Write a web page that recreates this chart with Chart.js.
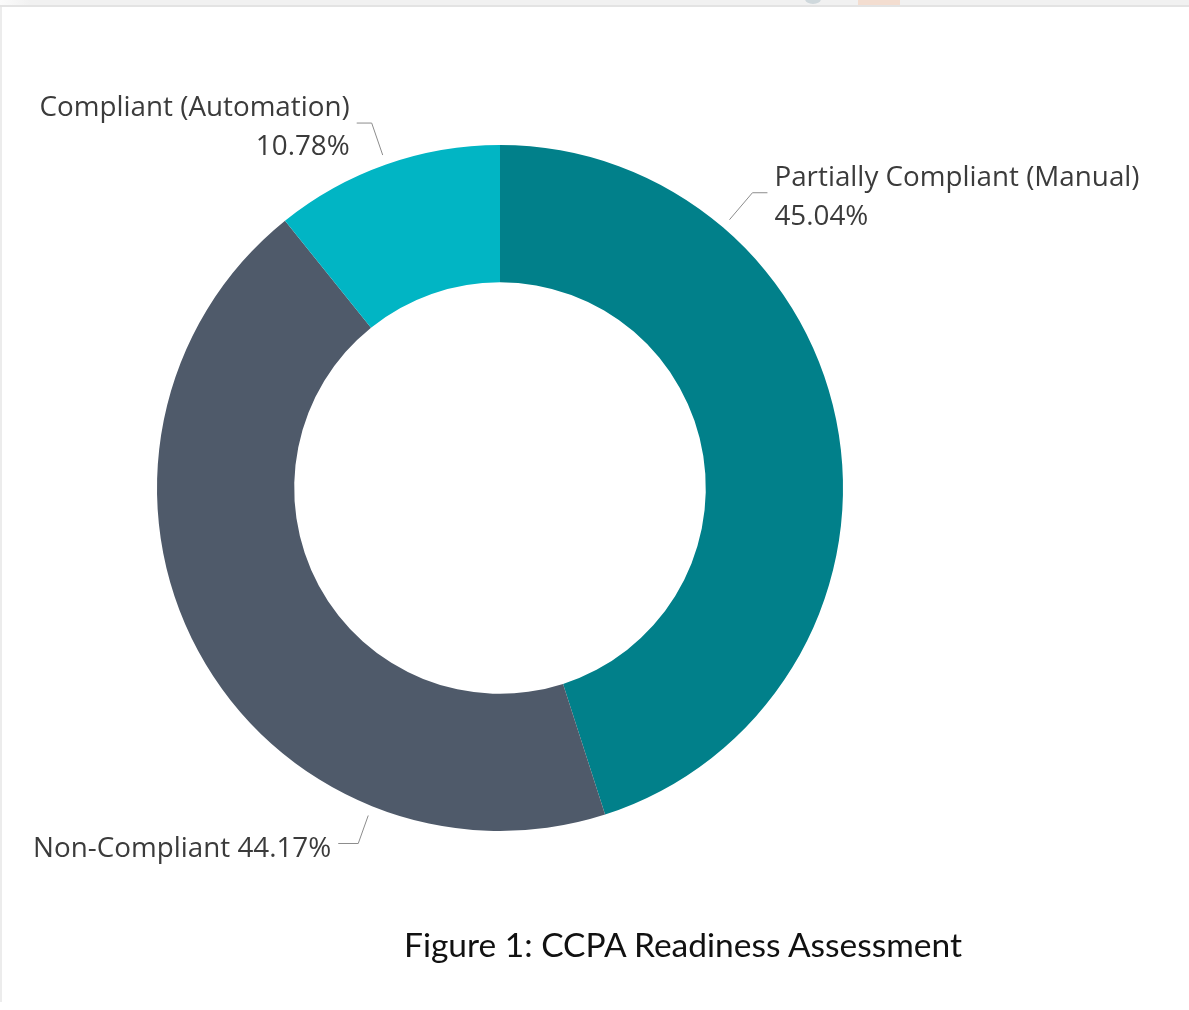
<!DOCTYPE html>
<html>
<head>
<meta charset="utf-8">
<title>CCPA Readiness Assessment</title>
<script src="https://cdn.jsdelivr.net/npm/chart.js@4/dist/chart.umd.min.js"></script>
<style>
    html, body { margin: 0; padding: 0; background: #fff; }
    #page { position: relative; width: 1189px; height: 1010px; overflow: hidden; }
    #topStrip { position: absolute; left: 0; top: 0; width: 1189px; height: 5px; background: #f1f1f1; border-bottom: 2px solid #e3e3e3; }
    #topStrip .fade { position: absolute; left: 0; top: 0; width: 30px; height: 5px; background: linear-gradient(to right, #fbfbfb, #f1f1f1); }
    #topStrip .dotA { position: absolute; left: 805px; top: -6px; width: 16px; height: 10px; border-radius: 50%; background: #cfd8dc; }
    #topStrip .dotB { position: absolute; left: 858px; top: 0; width: 42px; height: 5px; background: #f3ddd0; }
    #leftEdge { position: absolute; left: 0; top: 7px; width: 2px; height: 995px; background: #ececec; }
    #chartBox { position: absolute; left: 0; top: 0; width: 1189px; height: 1010px; }
    #caption { position: absolute; left: 404px; top: 924px; font-family: Lato, "Open Sans", sans-serif; font-size: 33.5px; line-height: 40px; color: #111; white-space: nowrap; }
</style>
</head>
<body>
<div id="page">
    <div id="topStrip"><div class="fade"></div><div class="dotA"></div><div class="dotB"></div></div>
    <div id="leftEdge"></div>
    <div id="chartBox"><canvas id="ccpaChart" width="1189" height="1010"></canvas></div>
    <div id="caption">Figure 1: CCPA Readiness Assessment</div>
</div>
<script>
// readiness shares, clockwise from 12 o'clock
const categories = ['Partially Compliant (Manual)', 'Non-Compliant', 'Compliant (Automation)'];
const shares = [45.04, 44.17, 10.78];
const sliceColors = ['#01808a', '#4f5a6a', '#01b5c4'];

// how each outside label is laid out: where the leader leaves the slice,
// the elbow offset, the horizontal tail and whether text wraps onto two lines
const labelLayout = [
    { frac: 0.25, elbow: [23, -27], tail: 15, side: 'right', twoLines: true },
    { frac: 0.25, elbow: [-10, 28], tail: -20, side: 'left', twoLines: false },
    { frac: 0.5, elbow: [-11, -32], tail: -15, side: 'left', twoLines: true }
];

const labelFont = '27.8px "Open Sans", sans-serif';
const labelColor = '#3b3b3b';
const leaderColor = '#8c8c8c';

const outsideLabels = {
    id: 'outsideLabels',
    afterDatasetsDraw(chart) {
        const ctx = chart.ctx;
        const meta = chart.getDatasetMeta(0);
        const values = chart.data.datasets[0].data;

        ctx.save();
        ctx.font = labelFont;
        ctx.fillStyle = labelColor;
        ctx.strokeStyle = leaderColor;
        ctx.lineWidth = 1;
        ctx.textBaseline = 'middle';

        meta.data.forEach((arc, i) => {
            const cfg = labelLayout[i];
            const p = arc.getProps(['x', 'y', 'startAngle', 'endAngle', 'outerRadius'], true);
            const angle = p.startAngle + cfg.frac * (p.endAngle - p.startAngle);
            const r = p.outerRadius + 10;
            const sx = p.x + Math.cos(angle) * r;
            const sy = p.y + Math.sin(angle) * r;
            const ex = sx + cfg.elbow[0];
            const ey = sy + cfg.elbow[1];
            const tx = ex + cfg.tail;

            ctx.beginPath();
            ctx.moveTo(sx, sy);
            ctx.lineTo(ex, ey);
            ctx.lineTo(tx, ey);
            ctx.stroke();

            const pct = values[i].toFixed(2) + '%';
            const textX = cfg.side === 'right' ? tx + 7 : tx - 7;
            ctx.textAlign = cfg.side === 'right' ? 'left' : 'right';

            if (cfg.twoLines) {
                ctx.fillText(chart.data.labels[i], textX, ey - 15);
                ctx.fillText(pct, textX, ey + 24);
            } else {
                ctx.fillText(chart.data.labels[i] + ' ' + pct, textX, ey + 6);
            }
        });
        ctx.restore();
    }
};

const ctx = document.getElementById('ccpaChart').getContext('2d');
new Chart(ctx, {
    type: 'doughnut',
    data: {
        labels: categories,
        datasets: [{
            data: shares,
            backgroundColor: sliceColors,
            borderWidth: 0,
            hoverOffset: 0
        }]
    },
    options: {
        responsive: false,
        animation: false,
        cutout: '60%',
        layout: {
            padding: { left: 157, right: 346, top: 145, bottom: 179 }
        },
        plugins: {
            legend: { display: false },
            tooltip: { enabled: false }
        }
    },
    plugins: [outsideLabels]
});
</script>
</body>
</html>
